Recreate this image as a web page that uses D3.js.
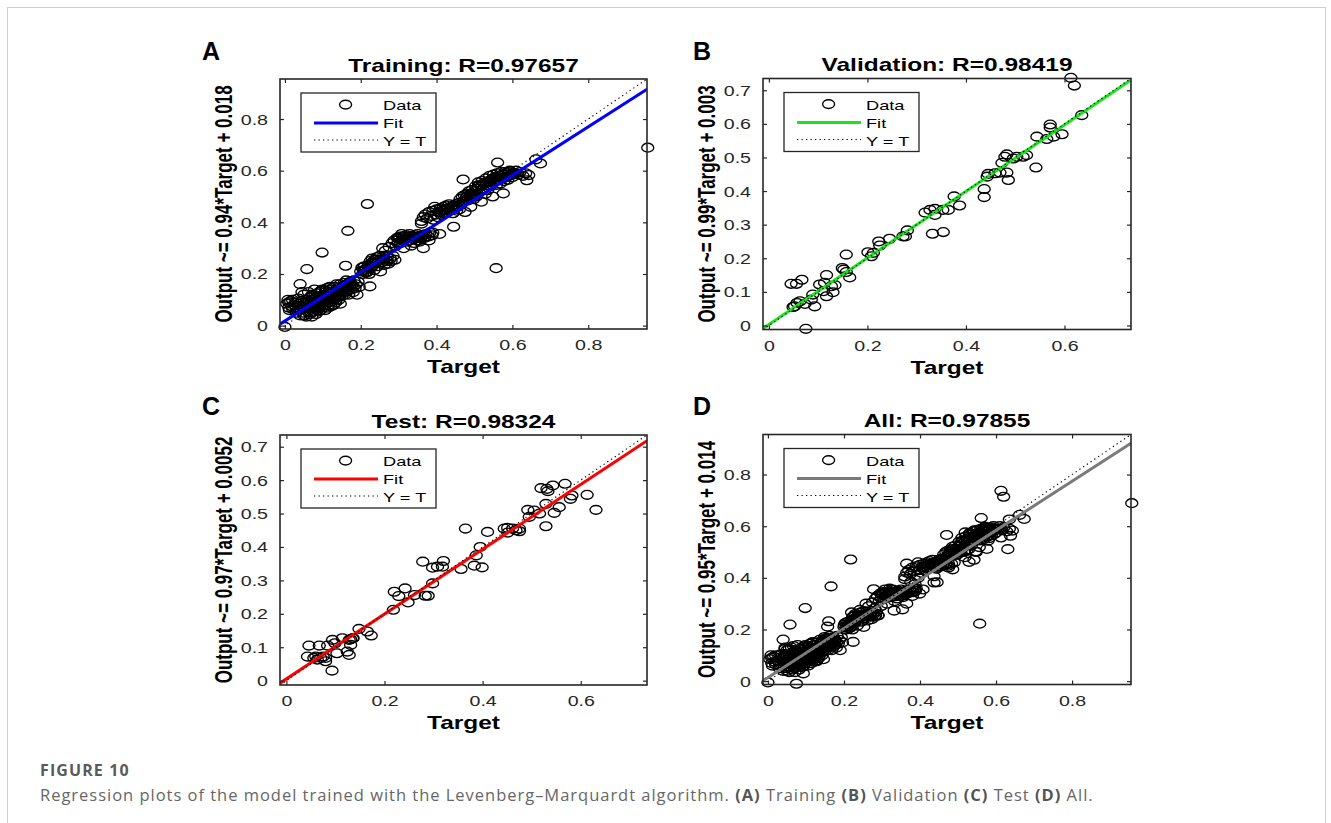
<!DOCTYPE html>
<html>
<head>
<meta charset="utf-8">
<script src="https://cdn.jsdelivr.net/npm/d3@7"></script>
<style>
  body { margin: 0; background: #fff; }
  svg text { font-family: "Liberation Sans", Arial, Helvetica, sans-serif; }
  svg .caption text { font-family: "Open Sans", sans-serif; }
</style>
</head>
<body>
<svg id="fig" width="1331" height="823"></svg>
<script>
// [target, output] pairs for each split
var trainData = [
  [0.000,-0.005],[0.005,0.085],[0.008,0.100],[0.010,0.070],[0.012,0.060],[0.015,0.095],[0.018,0.075],[0.020,0.065],
  [0.025,0.080],[0.028,0.090],[0.030,0.070],[0.033,0.060],[0.035,0.105],[0.038,0.085],[0.040,0.161],[0.042,0.075],
  [0.045,0.095],[0.047,0.065],[0.048,0.050],[0.050,0.040],[0.050,0.120],
  [0.052,0.085],[0.055,0.070],[0.056,0.035],[0.058,0.219],[0.058,0.100],[0.060,0.055],[0.062,0.130],[0.063,0.080],
  [0.065,0.045],[0.066,0.110],[0.068,0.065],[0.070,0.090],[0.071,0.035],[0.072,0.120],[0.074,0.075],[0.075,0.055],
  [0.076,0.100],[0.078,0.140],[0.080,0.065],[0.081,0.085],[0.082,0.045],[0.084,0.110],[0.085,0.095],[0.086,0.125],
  [0.088,0.070],[0.089,0.055],[0.090,0.100],[0.091,0.130],[0.093,0.080],[0.094,0.060],[0.095,0.115],[0.096,0.090],
  [0.098,0.283],[0.098,0.070],[0.099,0.140],[0.100,0.105],
  [0.101,0.080],[0.103,0.120],[0.104,0.095],[0.106,0.060],[0.107,0.135],[0.108,0.110],[0.110,0.085],[0.111,0.145],
  [0.113,0.100],[0.114,0.070],[0.115,0.125],[0.117,0.090],[0.118,0.150],[0.120,0.110],[0.121,0.075],[0.122,0.130],
  [0.124,0.095],[0.125,0.140],[0.127,0.115],[0.128,0.080],[0.130,0.150],[0.131,0.105],[0.133,0.125],[0.134,0.090],
  [0.136,0.160],[0.137,0.135],[0.139,0.110],[0.140,0.145],[0.142,0.100],[0.143,0.125],[0.145,0.160],[0.146,0.085],
  [0.148,0.140],[0.150,0.115],
  [0.152,0.150],[0.154,0.130],[0.156,0.165],[0.158,0.120],[0.160,0.232],[0.160,0.145],[0.162,0.175],[0.164,0.135],
  [0.166,0.367],[0.166,0.160],[0.168,0.120],[0.170,0.150],[0.172,0.170],[0.175,0.140],[0.177,0.160],[0.180,0.130],
  [0.182,0.175],[0.185,0.145],[0.188,0.160],[0.190,0.120],[0.193,0.170],[0.196,0.150],
  [0.010,0.090],[0.020,0.100],[0.030,0.050],[0.040,0.040],[0.045,0.130],[0.055,0.090],[0.060,0.075],[0.065,0.095],
  [0.070,0.050],[0.075,0.115],[0.080,0.105],[0.085,0.060],[0.090,0.075],[0.095,0.135],[0.100,0.090],[0.105,0.115],
  [0.110,0.100],[0.115,0.080],[0.120,0.140],[0.125,0.105],[0.130,0.120],[0.135,0.100],[0.140,0.130],[0.145,0.115],
  [0.150,0.140],[0.155,0.155],[0.160,0.130],[0.165,0.150],[0.170,0.165],[0.175,0.155],[0.180,0.150],
  [0.200,0.210],[0.203,0.225],[0.205,0.200],[0.208,0.215],[0.210,0.230],[0.213,0.205],[0.215,0.220],[0.2175,0.471],
  [0.218,0.210],[0.220,0.235],[0.222,0.200],[0.224,0.152],[0.225,0.250],[0.228,0.225],[0.230,0.260],[0.232,0.240],
  [0.235,0.215],[0.237,0.255],[0.240,0.245],[0.242,0.265],[0.245,0.230],[0.247,0.250],[0.250,0.270],[0.252,0.210],
  [0.255,0.245],[0.258,0.300],[0.260,0.260],[0.262,0.235],[0.265,0.290],[0.268,0.255],[0.270,0.265],[0.273,0.240],
  [0.275,0.305],[0.278,0.260],[0.280,0.250],[0.283,0.320],[0.285,0.270],[0.288,0.330],[0.290,0.255],[0.293,0.310],
  [0.296,0.340],[0.298,0.320],
  [0.205,0.225],[0.210,0.215],[0.215,0.205],[0.220,0.225],[0.230,0.245],[0.240,0.255],[0.250,0.255],[0.260,0.270],
  [0.270,0.250],
  [0.300,0.335],[0.303,0.345],[0.305,0.320],[0.308,0.355],[0.310,0.330],[0.313,0.300],[0.315,0.345],[0.318,0.335],
  [0.320,0.350],[0.323,0.325],[0.325,0.340],[0.328,0.355],[0.330,0.330],[0.333,0.310],[0.335,0.345],[0.338,0.335],
  [0.340,0.320],[0.343,0.350],[0.345,0.340],[0.348,0.330],[0.350,0.355],[0.353,0.345],[0.355,0.325],[0.358,0.340],
  [0.360,0.395],[0.362,0.350],[0.365,0.300],[0.365,0.420],[0.368,0.340],[0.370,0.430],[0.372,0.355],[0.375,0.415],
  [0.378,0.345],[0.380,0.440],[0.382,0.360],[0.385,0.425],[0.388,0.350],[0.390,0.445],[0.392,0.410],[0.395,0.460],
  [0.398,0.430],
  [0.300,0.340],[0.310,0.345],[0.320,0.340],[0.330,0.345],[0.340,0.335],[0.350,0.340],[0.360,0.405],[0.370,0.345],
  [0.380,0.330],[0.390,0.360],
  [0.400,0.450],[0.403,0.420],[0.405,0.440],[0.408,0.355],[0.410,0.455],[0.412,0.430],[0.415,0.445],[0.418,0.460],
  [0.420,0.435],[0.423,0.450],[0.425,0.465],[0.428,0.440],[0.430,0.455],[0.433,0.470],[0.435,0.445],[0.438,0.460],
  [0.440,0.450],[0.443,0.435],[0.445,0.383],[0.445,0.465],[0.448,0.455],[0.450,0.470],[0.453,0.445],[0.455,0.460],
  [0.458,0.475],[0.460,0.450],[0.462,0.490],[0.465,0.470],[0.468,0.500],[0.470,0.566],[0.470,0.480],[0.473,0.505],
  [0.475,0.440],[0.478,0.495],[0.480,0.510],[0.483,0.485],[0.485,0.520],[0.488,0.500],[0.490,0.460],[0.493,0.525],
  [0.495,0.505],[0.498,0.490],
  [0.410,0.440],[0.420,0.450],[0.440,0.460],[0.460,0.465],[0.480,0.500],[0.490,0.510],
  [0.500,0.520],[0.503,0.540],[0.505,0.500],[0.508,0.530],[0.510,0.555],[0.512,0.515],[0.515,0.545],[0.518,0.480],
  [0.520,0.560],[0.522,0.530],[0.525,0.550],[0.528,0.510],[0.530,0.570],[0.532,0.545],[0.535,0.525],[0.538,0.560],
  [0.540,0.580],[0.542,0.540],[0.545,0.565],[0.548,0.500],[0.550,0.585],[0.552,0.555],[0.555,0.575],[0.557,0.2225],
  [0.558,0.545],[0.560,0.590],[0.561,0.6315],[0.563,0.565],[0.565,0.580],[0.568,0.550],[0.570,0.595],[0.572,0.570],
  [0.575,0.585],[0.576,0.512],[0.578,0.560],[0.580,0.595],[0.583,0.575],[0.585,0.590],[0.588,0.565],[0.590,0.580],
  [0.593,0.600],[0.596,0.585],
  [0.500,0.500],[0.510,0.540],[0.520,0.545],[0.530,0.555],[0.540,0.555],[0.550,0.570],[0.560,0.575],[0.570,0.580],
  [0.580,0.585],[0.590,0.595],
  [0.600,0.575],[0.605,0.590],[0.610,0.600],[0.615,0.585],[0.620,0.595],[0.628,0.580],[0.635,0.590],[0.638,0.563],
  [0.643,0.583],[0.600,0.590],[0.610,0.590],[0.662,0.644],[0.674,0.628],[0.957,0.689]
];

var valData = [
  [0.613,0.737],[0.620,0.714],[0.635,0.626],[0.571,0.598],[0.571,0.589],[0.544,0.562],[0.564,0.555],[0.578,0.562],
  [0.595,0.569],[0.542,0.470],[0.523,0.507],[0.516,0.502],[0.503,0.502],[0.496,0.497],[0.483,0.509],[0.479,0.502],
  [0.473,0.484],[0.486,0.433],[0.483,0.455],[0.469,0.455],[0.459,0.453],[0.445,0.451],[0.443,0.443],[0.437,0.406],
  [0.437,0.382],[0.376,0.384],[0.387,0.357],[0.364,0.344],[0.353,0.344],[0.337,0.347],[0.327,0.344],[0.317,0.336],
  [0.337,0.329],[0.332,0.273],[0.354,0.278],[0.281,0.283],[0.277,0.265],[0.272,0.265],[0.245,0.258],[0.223,0.250],
  [0.225,0.238],[0.212,0.216],[0.201,0.218],[0.208,0.206],[0.157,0.211],[0.152,0.166],[0.149,0.171],[0.157,0.159],
  [0.164,0.143],[0.117,0.150],[0.134,0.120],[0.127,0.117],[0.130,0.099],[0.117,0.087],[0.111,0.102],[0.103,0.122],
  [0.113,0.127],[0.089,0.092],[0.086,0.077],[0.093,0.057],[0.073,0.064],[0.063,0.072],[0.057,0.067],[0.052,0.057],
  [0.045,0.124],[0.056,0.124],[0.067,0.136],[0.075,-0.010],[0.049,0.055]
];

var testData = [
  [0.631,0.511],[0.613,0.556],[0.579,0.544],[0.582,0.554],[0.568,0.589],[0.543,0.584],[0.533,0.567],[0.531,0.574],
  [0.519,0.576],[0.529,0.529],[0.546,0.502],[0.556,0.519],[0.529,0.462],[0.516,0.500],[0.505,0.509],[0.492,0.511],
  [0.495,0.490],[0.475,0.455],[0.468,0.450],[0.461,0.455],[0.451,0.457],[0.444,0.455],[0.451,0.443],[0.475,0.447],
  [0.410,0.445],[0.365,0.455],[0.395,0.400],[0.387,0.375],[0.383,0.344],[0.399,0.339],[0.356,0.334],[0.318,0.341],
  [0.308,0.341],[0.298,0.338],[0.320,0.358],[0.278,0.356],[0.298,0.291],[0.289,0.254],[0.283,0.254],[0.261,0.256],
  [0.248,0.234],[0.229,0.253],[0.220,0.266],[0.242,0.276],[0.218,0.212],[0.173,0.135],[0.165,0.147],[0.148,0.155],
  [0.135,0.127],[0.128,0.122],[0.131,0.107],[0.124,0.087],[0.128,0.077],[0.114,0.127],[0.103,0.082],[0.094,0.122],
  [0.099,0.112],[0.093,0.030],[0.084,0.105],[0.080,0.068],[0.080,0.058],[0.067,0.105],[0.046,0.105],[0.043,0.072],
  [0.056,0.068],[0.063,0.063],[0.070,0.068],[0.075,0.072],[0.060,0.072],[0.131,0.124],[0.136,0.127]
];

// the "All" panel pools every split
var allData = trainData.concat(valData, testData);

var panelLetters = ["A", "B", "C", "D"];
var panelNames = ["Training", "Validation", "Test", "All"];
var rValues = ["0.97657", "0.98419", "0.98324", "0.97855"];
var fitSlopes = [0.94, 0.99, 0.97, 0.95];
var fitIntercepts = [0.018, 0.003, 0.0052, 0.014];
var fitColors = ["#0000ff", "#19e619", "#ff0000", "#7a7a7a"];
var axisLimits = [[-0.013, 0.955], [-0.012, 0.735], [-0.013, 0.735], [-0.013, 0.955]];
var xTickValues = [[0, 0.2, 0.4, 0.6, 0.8], [0, 0.2, 0.4, 0.6], [0, 0.2, 0.4, 0.6], [0, 0.2, 0.4, 0.6, 0.8]];
var yTickValues = [
  [0, 0.2, 0.4, 0.6, 0.8],
  [0, 0.1, 0.2, 0.3, 0.4, 0.5, 0.6, 0.7],
  [0, 0.1, 0.2, 0.3, 0.4, 0.5, 0.6, 0.7],
  [0, 0.2, 0.4, 0.6, 0.8]
];
var legendLabels = ["Data", "Fit", "Y = T"];
var datasets = [trainData, valData, testData, allData];

// axes boxes on the page
var boxes = [
  {left: 280, top: 79, width: 367, height: 250, letterX: 202, letterY: 60},
  {left: 763, top: 78.5, width: 368, height: 251, letterX: 693, letterY: 60},
  {left: 280, top: 435, width: 367, height: 250, letterX: 202, letterY: 415},
  {left: 763, top: 434.5, width: 368, height: 250, letterX: 693, letterY: 415}
];

var SX = 1.4;      // the exported plots are widened horizontally
var axisColor = "#262626";
var markerRx = 6, markerRy = 4.4, markerStroke = 1.35;

var svg = d3.select("#fig");

svg.append("rect")
  .attr("x", 0).attr("y", 0).attr("width", 1331).attr("height", 823)
  .attr("fill", "#fff");

// light frame round the figure
svg.append("rect")
  .attr("x", 7.5).attr("y", 7.5)
  .attr("width", 1318).attr("height", 900)
  .attr("fill", "none")
  .attr("stroke", "#cfcfcf")
  .attr("stroke-width", 1);

function fmt(v) {
  return v === 0 ? "0" : String(+v.toFixed(1));
}

function stretchedText(parent, x, y, str, size, weight, anchor) {
  return parent.append("text")
    .attr("transform", `translate(${x},${y}) scale(${SX},1)`)
    .attr("text-anchor", anchor || "middle")
    .attr("font-size", size)
    .attr("font-weight", weight || "normal")
    .attr("fill", "#000")
    .text(str);
}

boxes.forEach(function(b, i) {
  var lim = axisLimits[i];
  var x = d3.scaleLinear().domain(lim).range([0, b.width]);
  var y = d3.scaleLinear().domain(lim).range([b.height, 0]);

  var g = svg.append("g").attr("transform", `translate(${b.left},${b.top})`);

  var clipId = "clip" + i;
  g.append("clipPath").attr("id", clipId)
    .append("rect").attr("width", b.width).attr("height", b.height);

  // scatter of outputs against targets
  g.append("g").selectAll("ellipse")
    .data(datasets[i])
    .join("ellipse")
    .attr("cx", d => x(d[0]))
    .attr("cy", d => y(d[1]))
    .attr("rx", markerRx)
    .attr("ry", markerRy)
    .attr("fill", "none")
    .attr("stroke", "#000")
    .attr("stroke-width", markerStroke);

  var line = d3.line().x(d => x(d[0])).y(d => y(d[1]));

  // fitted regression line
  g.append("path")
    .attr("clip-path", `url(#${clipId})`)
    .attr("d", line(lim.map(t => [t, fitSlopes[i] * t + fitIntercepts[i]])))
    .attr("fill", "none")
    .attr("stroke", fitColors[i])
    .attr("stroke-width", 3);

  // identity line Y = T
  g.append("path")
    .attr("clip-path", `url(#${clipId})`)
    .attr("d", line(lim.map(t => [t, t])))
    .attr("fill", "none")
    .attr("stroke", "#000")
    .attr("stroke-width", 1.1)
    .attr("stroke-dasharray", "1.3,3.2");

  // ticks on all four sides, pointing inwards
  var xb = g.append("g").attr("transform", `translate(0,${b.height})`)
    .call(d3.axisBottom(x).tickValues(xTickValues[i]).tickSize(-4).tickSizeOuter(0).tickFormat(fmt));
  var xt = g.append("g")
    .call(d3.axisTop(x).tickValues(xTickValues[i]).tickSize(-4).tickSizeOuter(0).tickFormat(""));
  var yl = g.append("g")
    .call(d3.axisLeft(y).tickValues(yTickValues[i]).tickSize(-4).tickSizeOuter(0).tickFormat(fmt));
  var yr = g.append("g").attr("transform", `translate(${b.width},0)`)
    .call(d3.axisRight(y).tickValues(yTickValues[i]).tickSize(-4).tickSizeOuter(0).tickFormat(""));

  [xb, xt, yl, yr].forEach(function(ax) {
    ax.select(".domain").remove();
    ax.selectAll(".tick line").attr("stroke", axisColor).attr("stroke-width", 1.2);
  });

  xb.selectAll(".tick text")
    .attr("y", null).attr("dy", null)
    .attr("transform", `translate(0,21) scale(${SX},1)`)
    .attr("font-size", 14)
    .attr("font-family", null)
    .attr("fill", "#262626");

  yl.selectAll(".tick text")
    .attr("x", null).attr("dy", null)
    .attr("transform", `translate(-12,5) scale(${SX},1)`)
    .attr("font-size", 14)
    .attr("font-family", null)
    .attr("fill", "#262626");

  g.append("rect")
    .attr("width", b.width).attr("height", b.height)
    .attr("fill", "none")
    .attr("stroke", axisColor)
    .attr("stroke-width", 1.6);

  // legend
  var lg = g.append("g").attr("transform", "translate(21,14)");
  lg.append("rect")
    .attr("width", 135).attr("height", 59)
    .attr("fill", "#fff")
    .attr("stroke", axisColor)
    .attr("stroke-width", 1.3);
  lg.append("ellipse")
    .attr("cx", 44.6).attr("cy", 11.6).attr("rx", markerRx).attr("ry", markerRy)
    .attr("fill", "none").attr("stroke", "#000").attr("stroke-width", markerStroke);
  lg.append("line")
    .attr("x1", 13).attr("x2", 77).attr("y1", 30).attr("y2", 30)
    .attr("stroke", fitColors[i]).attr("stroke-width", 3);
  lg.append("line")
    .attr("x1", 13).attr("x2", 77).attr("y1", 47).attr("y2", 47)
    .attr("stroke", "#000").attr("stroke-width", 1.1)
    .attr("stroke-dasharray", "1.3,3.2");
  legendLabels.forEach(function(lab, k) {
    stretchedText(lg, 82, 17 + k * 18, lab, 13, "normal", "start");
  });

  // title and axis labels
  stretchedText(g, b.width / 2, -7.5, panelNames[i] + ": R=" + rValues[i], 17.5, "bold");
  stretchedText(g, b.width / 2, b.height + 44, "Target", 17.5, "bold");

  g.append("text")
    .attr("transform", `translate(-48,${b.height / 2}) scale(${SX},1) rotate(-90)`)
    .attr("text-anchor", "middle")
    .attr("font-size", 17)
    .attr("font-weight", "bold")
    .text("Output ~= " + fitSlopes[i] + "*Target + " + fitIntercepts[i]);

  svg.append("text")
    .attr("x", b.letterX).attr("y", b.letterY)
    .attr("font-size", 25)
    .attr("font-weight", "bold")
    .text(panelLetters[i]);
});

// caption
var cap = svg.append("g").attr("class", "caption");
cap.append("text")
  .attr("x", 40).attr("y", 776)
  .attr("font-size", 16)
  .attr("font-weight", "bold")
  .attr("letter-spacing", 1.1)
  .attr("fill", "#5a5a5a")
  .text("FIGURE 10");

var capParts = [
  ["Regression plots of the model trained with the Levenberg\u2013Marquardt algorithm. ", false],
  ["(A)", true], [" Training ", false],
  ["(B)", true], [" Validation ", false],
  ["(C)", true], [" Test ", false],
  ["(D)", true], [" All.", false]
];
var capText = cap.append("text")
  .attr("x", 40).attr("y", 801)
  .attr("font-size", 16.5)
  .attr("letter-spacing", 0.98)
  .attr("fill", "#666");
capParts.forEach(function(p) {
  capText.append("tspan")
    .attr("font-weight", p[1] ? "bold" : "normal")
    .attr("fill", p[1] ? "#555" : "#666")
    .text(p[0]);
});
</script>
</body>
</html>
